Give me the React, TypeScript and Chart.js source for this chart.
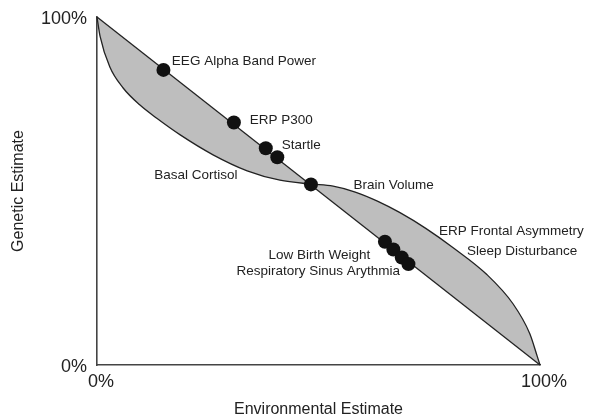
import React, { useEffect, useRef } from "react";
import { Chart, registerables } from "chart.js";

Chart.register(...registerables);

const FONT = "'Liberation Sans', Arial, Helvetica, sans-serif";

// Axis ticks (percent)
const xTicks = [0, 100];
const yTicks = [0, 100];

// Straight diagonal boundary
const diagonalX = [0, 100];
const diagonalY = [100, 0];

// S-shaped boundary of the shaded region
const curveX = [0, 0.7, 2.9, 5.9, 9.7, 13.5, 18.7, 26.2, 33.9, 41.3, 48.3, 53.3, 58.3, 63.3, 68.3, 74.3, 80.4, 88.0, 93.9, 97.7, 99.4, 100];
const curveY = [100, 94.4, 85.6, 79.6, 74.7, 70.9, 66.2, 60.4, 55.8, 53.1, 52.0, 51.4, 49.7, 47.1, 43.85, 39.2, 33.7, 26.0, 17.6, 9.0, 2.4, 0];

// Measures (dots)
const dotX = [15.0, 30.9, 38.1, 40.7, 48.3, 65.0, 66.9, 68.8, 70.3];
const dotY = [84.8, 69.7, 62.3, 59.7, 51.9, 35.4, 33.2, 30.9, 29.0];

// Text labels and their anchor (left edge, middle) in data units
const labelText = [
  "EEG Alpha Band Power",
  "ERP P300",
  "Startle",
  "Basal Cortisol",
  "Brain Volume",
  "Low Birth Weight",
  "Respiratory Sinus Arythmia",
  "ERP Frontal Asymmetry",
  "Sleep Disturbance",
];
const labelX = [16.9, 34.5, 41.7, 12.9, 57.9, 38.7, 31.5, 77.2, 83.5];
const labelY = [87.4, 70.4, 63.2, 54.6, 51.7, 31.6, 26.8, 38.3, 32.6];

const labelPlugin = {
  id: "textLabels",
  afterDatasetsDraw(chart: any) {
    const { ctx, scales } = chart;
    ctx.save();
    ctx.font = `13.5px ${FONT}`;
    ctx.fillStyle = "#222";
    ctx.textAlign = "left";
    ctx.textBaseline = "middle";
    labelText.forEach((t, i) => {
      ctx.fillText(t, scales.x.getPixelForValue(labelX[i]), scales.y.getPixelForValue(labelY[i]));
    });
    ctx.restore();
  },
};

export default function App() {
  const ref = useRef<HTMLCanvasElement>(null);
  useEffect(() => {
    const chart = new Chart(ref.current!, {
      type: "line",
      data: {
        datasets: [
          {
            type: "scatter",
            data: dotX.map((x, i) => ({ x, y: dotY[i] })),
            pointRadius: 7,
            pointBackgroundColor: "#111",
            pointBorderWidth: 0,
            showLine: false,
            order: 0,
            clip: false,
          } as any,
          {
            data: diagonalX.map((x, i) => ({ x, y: diagonalY[i] })),
            borderColor: "#222",
            borderWidth: 1.3,
            pointRadius: 0,
            tension: 0,
            fill: false,
            order: 1,
            clip: false,
          },
          {
            data: curveX.map((x, i) => ({ x, y: curveY[i] })),
            borderColor: "#222",
            borderWidth: 1.3,
            pointRadius: 0,
            cubicInterpolationMode: "monotone",
            fill: 1,
            backgroundColor: "rgb(190,190,190)",
            order: 2,
            clip: false,
          },
        ],
      },
      options: {
        animation: false,
        responsive: false,
        layout: { padding: { top: 17, right: 49, left: 0, bottom: 0 } },
        plugins: { legend: { display: false }, tooltip: { enabled: false } },
        scales: {
          x: {
            type: "linear",
            min: 0,
            max: 100,
            afterBuildTicks: (s: any) => {
              s.ticks = xTicks.map((v) => ({ value: v }));
            },
            afterFit: (s: any) => {
              s.height = 51;
              s.paddingLeft = 0;
              s.paddingRight = 0;
            },
            grid: { display: false, drawTicks: false },
            border: { display: true, color: "#444", width: 1.6 },
            ticks: {
              callback: (v: any) => v + "%",
              font: { family: FONT, size: 18 },
              color: "#222",
              padding: 6,
              labelOffset: 4,
              maxRotation: 0,
            },
            title: {
              display: true,
              text: "Environmental Estimate",
              font: { family: FONT, size: 16 },
              color: "#222",
              padding: { top: 0, bottom: -3 },
            },
          },
          y: {
            type: "linear",
            min: 0,
            max: 100,
            afterBuildTicks: (s: any) => {
              s.ticks = yTicks.map((v) => ({ value: v }));
            },
            afterFit: (s: any) => {
              s.width = 97;
              s.paddingTop = 0;
              s.paddingBottom = 0;
            },
            grid: { display: false, drawTicks: false },
            border: { display: true, color: "#444", width: 1.6 },
            ticks: {
              callback: (v: any) => v + "%",
              font: { family: FONT, size: 18 },
              color: "#222",
              padding: 10,
              labelOffset: 2,
            },
            title: {
              display: true,
              text: "Genetic Estimate",
              font: { family: FONT, size: 16 },
              color: "#222",
              padding: { top: 9, bottom: 0 },
            },
          },
        },
      } as any,
      plugins: [labelPlugin],
    });
    return () => chart.destroy();
  }, []);
  return (
    <div style={{ position: "fixed", left: 0, top: 0, width: 589, height: 416 }}>
      <canvas ref={ref} width={589} height={416} style={{ width: 589, height: 416, display: "block" }} />
    </div>
  );
}
